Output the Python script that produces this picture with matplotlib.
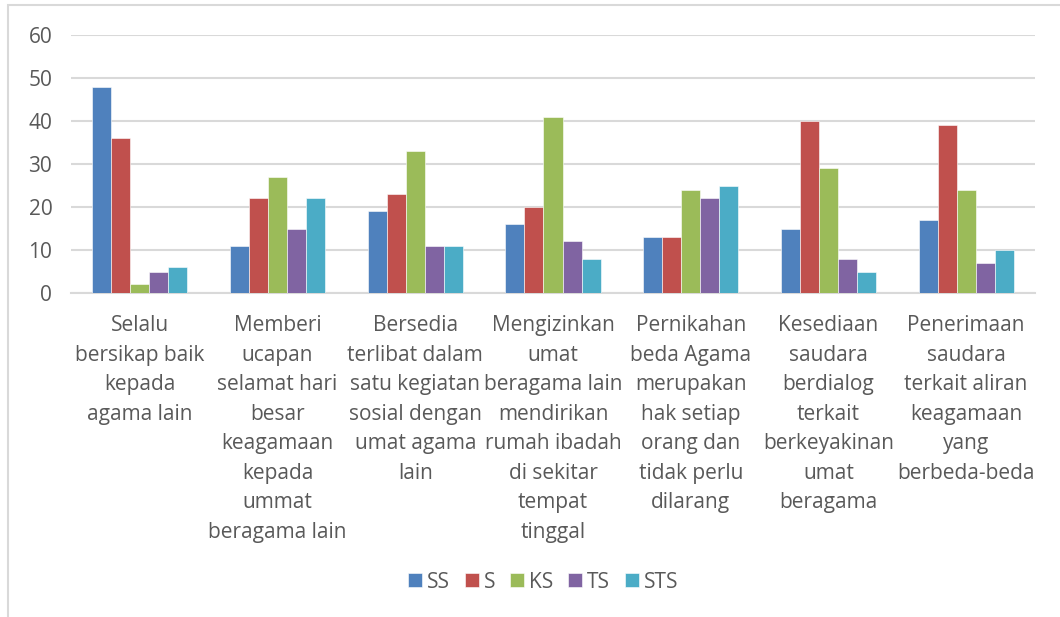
import matplotlib
matplotlib.use("Agg")
import matplotlib.pyplot as plt
import numpy as np
from matplotlib.patches import Rectangle

categories = [
    "Selalu\nbersikap baik\nkepada\nagama lain",
    "Memberi\nucapan\nselamat hari\nbesar\nkeagamaan\nkepada\nummat\nberagama lain",
    "Bersedia\nterlibat dalam\nsatu kegiatan\nsosial dengan\numat agama\nlain",
    "Mengizinkan\numat\nberagama lain\nmendirikan\nrumah ibadah\ndi sekitar\ntempat\ntinggal",
    "Pernikahan\nbeda Agama\nmerupakan\nhak setiap\norang dan\ntidak perlu\ndilarang",
    "Kesediaan\nsaudara\nberdialog\nterkait\nberkeyakinan\numat\nberagama",
    "Penerimaan\nsaudara\nterkait aliran\nkeagamaan\nyang\nberbeda-beda",
]
series_names = ["SS", "S", "KS", "TS", "STS"]
SS = [48, 11, 19, 16, 13, 15, 17]
S = [36, 22, 23, 20, 13, 40, 39]
KS = [2, 27, 33, 41, 24, 29, 24]
TS = [5, 15, 11, 12, 22, 8, 7]
STS = [6, 22, 11, 8, 25, 5, 10]
yticks = [0, 10, 20, 30, 40, 50, 60]

colors = ["#4F81BD", "#C0504D", "#9BBB59", "#8064A2", "#4BACC6"]
series = [SS, S, KS, TS, STS]

plt.rcParams['font.family'] = ['Open Sans', 'DejaVu Sans']

W, H = 1060, 617
fig = plt.figure(figsize=(W / 100, H / 100), dpi=100)
ax = fig.add_axes([71 / W, 1 - 293 / H, (1035 - 71) / W, (293 - 35) / H])

n = len(categories)
x = np.arange(n)
bw = 0.138
for i, (vals, c, name) in enumerate(zip(series, colors, series_names)):
    ax.bar(x + (i - 2) * bw, vals, bw, color=c, label=name,
           edgecolor="white", linewidth=0.4, zorder=3)

ax.set_xlim(-0.5, n - 0.5)
ax.set_ylim(0, 60)
ax.set_yticks(yticks)
ax.set_yticklabels([str(v) for v in yticks], fontsize=15, color="#595959")
ax.yaxis.grid(True, color="#D9D9D9", linewidth=1.5, zorder=0)
ax.set_axisbelow(True)
for s in ["top", "right", "left"]:
    ax.spines[s].set_visible(False)
ax.spines["bottom"].set_color("#D9D9D9")
ax.spines["bottom"].set_linewidth(1.5)
ax.tick_params(axis="y", length=0, pad=13.5)
ax.tick_params(axis="x", length=0, pad=16)
ax.set_xticks(x)
ax.set_xticklabels(categories, fontsize=15, color="#595959", linespacing=1.53,
                   va="top", ha="center")

leg = ax.legend(loc="center", bbox_to_anchor=(543 / W, 1 - 582 / H),
                bbox_transform=fig.transFigure, ncol=5, frameon=False,
                fontsize=15, handlelength=0.67, handleheight=0.67,
                handletextpad=0.25, columnspacing=0.7, borderaxespad=0)
for t in leg.get_texts():
    t.set_color("#595959")

fig.patches.append(Rectangle((8 / W, -0.1), 1.2, 1 - 5 / H + 0.1,
                             transform=fig.transFigure, fill=False,
                             edgecolor="#D9D9D9", linewidth=1.5))

fig.savefig("out.png", dpi=100, facecolor="white")
